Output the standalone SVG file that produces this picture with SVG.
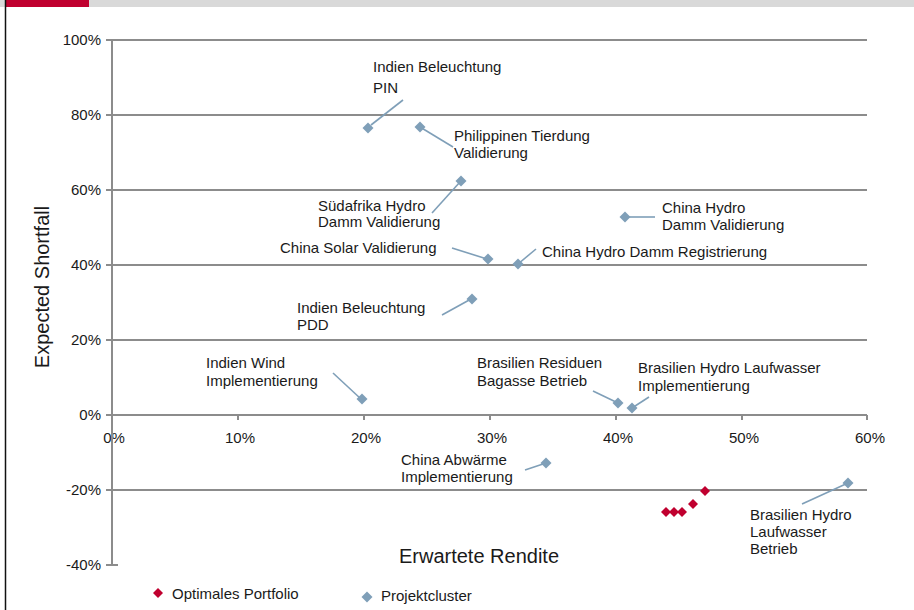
<svg xmlns="http://www.w3.org/2000/svg" width="914" height="610" viewBox="0 0 914 610">
<defs>
<style>
text{font-family:"Liberation Sans",Arial,sans-serif;fill:#1a1a1a;font-size:15px}
.ax{font-size:14.5px}
.ttl{font-size:20px}
.grid{stroke:#8c8c8c;stroke-width:2;fill:none}
.lead{stroke:#7f9fb8;stroke-width:1.6;fill:none}
.blue{fill:#7f9fb8}
.red{fill:#c0002f}
.r{text-anchor:end}
.m{text-anchor:middle}
</style>
<path id="dB" d="M0,-5.5 L5.5,0 L0,5.5 L-5.5,0 Z"/>
<path id="dR" d="M0,-5 L5,0 L0,5 L-5,0 Z"/>
</defs>
<rect width="914" height="610" fill="#fff"/>
<g id="header">
<rect x="0" y="0" width="914" height="7" fill="#d9d9d9"/>
<rect x="6" y="0" width="83" height="7" fill="#c0002f"/>
<line x1="5.5" y1="0" x2="5.5" y2="610" stroke="#111" stroke-width="1.5"/>
</g>
<g id="axes">
<g class="grid">
<path d="M112,40H867M112,115H867M112,190H867M112,265H867M112,340H867M112,415H867M112,490H867"/>
<path d="M106,40H112M106,115H112M106,190H112M106,265H112M106,340H112M106,415H112M106,490H112M106,565H118"/>
<path d="M238,415V420M364,415V420M490,415V420M616,415V420M742,415V420M867,415V420"/>
</g>
<g class="ax r">
<text x="101" y="45">100%</text>
<text x="101" y="120">80%</text>
<text x="101" y="195">60%</text>
<text x="101" y="270">40%</text>
<text x="101" y="345">20%</text>
<text x="101" y="420">0%</text>
<text x="101" y="495">-20%</text>
<text x="101" y="570">-40%</text>
</g>
<g class="ax m">
<text x="114" y="443">0%</text>
<text x="240" y="443">10%</text>
<text x="366" y="443">20%</text>
<text x="492" y="443">30%</text>
<text x="618" y="443">40%</text>
<text x="744" y="443">50%</text>
<text x="870" y="443">60%</text>
</g>
<path class="grid" d="M112,40V565"/>
<text class="ttl m" x="479" y="563">Erwartete Rendite</text>
<text class="ttl m" transform="translate(49,287) rotate(-90)">Expected Shortfall</text>
</g>
<g id="connectors">
<path class="lead" d="M403,100L371,125"/>
<path class="lead" d="M420,127L453,147"/>
<path class="lead" d="M460,182L432,213"/>
<path class="lead" d="M626,217H655"/>
<path class="lead" d="M452,248L487,259"/>
<path class="lead" d="M518,264L536,249"/>
<path class="lead" d="M471,299L442,315"/>
<path class="lead" d="M333,373L361,399"/>
<path class="lead" d="M593,391L618,403"/>
<path class="lead" d="M632,408L649,397"/>
<path class="lead" d="M546,463L525,470"/>
<path class="lead" d="M848,483L802,504"/>
</g>
<g id="indien-beleuchtung-pin">
<use href="#dB" class="blue" x="368" y="128"/>
<text x="373" y="72">Indien Beleuchtung</text>
<text x="373" y="93">PIN</text>
</g>
<g id="philippinen-tierdung">
<use href="#dB" class="blue" x="420" y="127"/>
<text x="454" y="141">Philippinen Tierdung</text>
<text x="454" y="158">Validierung</text>
</g>
<g id="suedafrika-hydro">
<use href="#dB" class="blue" x="461" y="181"/>
<text x="318" y="211">Südafrika Hydro</text>
<text x="318" y="227">Damm Validierung</text>
</g>
<g id="china-hydro-validierung">
<use href="#dB" class="blue" x="625" y="217"/>
<text x="662" y="213">China Hydro</text>
<text x="662" y="230">Damm Validierung</text>
</g>
<g id="china-solar">
<use href="#dB" class="blue" x="488" y="259"/>
<text x="280" y="253">China Solar Validierung</text>
</g>
<g id="china-hydro-registrierung">
<use href="#dB" class="blue" x="518" y="264"/>
<text x="542" y="257">China Hydro Damm Registrierung</text>
</g>
<g id="indien-beleuchtung-pdd">
<use href="#dB" class="blue" x="472" y="299"/>
<text x="297" y="313">Indien Beleuchtung</text>
<text x="297" y="330">PDD</text>
</g>
<g id="indien-wind">
<use href="#dB" class="blue" x="362" y="399"/>
<text x="206" y="368">Indien Wind</text>
<text x="206" y="386">Implementierung</text>
</g>
<g id="brasilien-residuen">
<use href="#dB" class="blue" x="618" y="403"/>
<text x="477" y="368">Brasilien Residuen</text>
<text x="477" y="386">Bagasse Betrieb</text>
</g>
<g id="brasilien-hydro-impl">
<use href="#dB" class="blue" x="632" y="408"/>
<text x="638" y="373">Brasilien Hydro Laufwasser</text>
<text x="638" y="391">Implementierung</text>
</g>
<g id="china-abwaerme">
<use href="#dB" class="blue" x="546" y="463"/>
<text x="401" y="465">China Abwärme</text>
<text x="401" y="482">Implementierung</text>
</g>
<g id="brasilien-hydro-betrieb">
<use href="#dB" class="blue" x="848" y="483"/>
<text x="750" y="520">Brasilien Hydro</text>
<text x="750" y="537">Laufwasser</text>
<text x="750" y="554">Betrieb</text>
</g>
<g id="optimales-portfolio">
<use href="#dR" class="red" x="666" y="512"/>
<use href="#dR" class="red" x="674" y="512"/>
<use href="#dR" class="red" x="682" y="512"/>
<use href="#dR" class="red" x="693" y="504"/>
<use href="#dR" class="red" x="705" y="491"/>
</g>
<g id="legend">
<use href="#dR" class="red" x="158" y="593"/>
<text x="172" y="599">Optimales Portfolio</text>
<use href="#dB" class="blue" x="367" y="597"/>
<text x="381" y="601">Projektcluster</text>
</g>
</svg>
